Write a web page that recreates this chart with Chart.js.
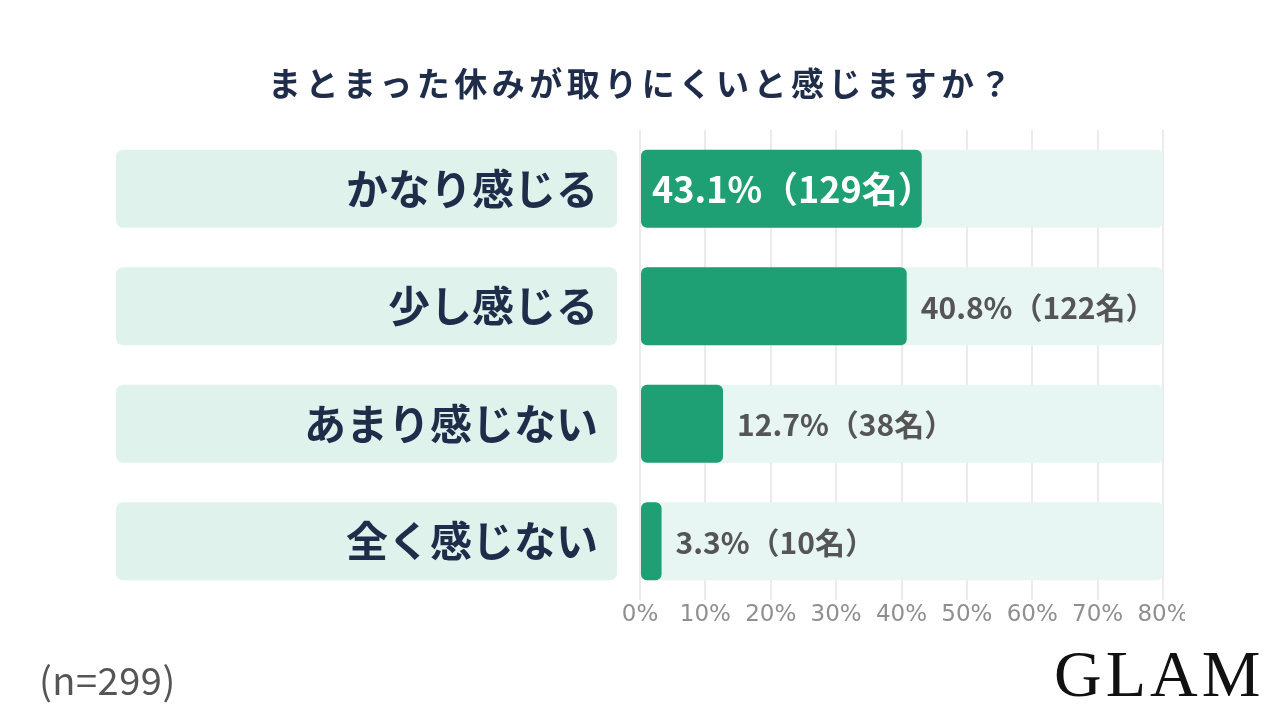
<!DOCTYPE html>
<html><head><meta charset="utf-8">
<script src="https://cdn.jsdelivr.net/npm/chart.js@4/dist/chart.umd.min.js"></script>
<style>
html,body{margin:0;padding:0;background:#fff;}
#wrap{position:absolute;left:0;top:0;width:1185px;height:720px;overflow:hidden;}
#cv{display:block;}
#title{position:absolute;left:0;top:60px;width:1284px;text-align:center;font:700 33px "Noto Sans CJK JP";letter-spacing:4.5px;color:#1f2d4a;line-height:44px;white-space:nowrap;}
#n{position:absolute;left:39px;top:653px;font:400 38px "Noto Sans CJK JP";letter-spacing:0.5px;color:#555;line-height:52px;}
#logo{position:absolute;left:1054px;top:636px;font:400 66px "Liberation Serif";letter-spacing:4px;color:#111;}
</style></head>
<body>
<div id="wrap"><canvas id="cv" width="1280" height="720" style="width:1280px;height:720px"></canvas></div>
<div id="title"></div>
<div id="n">(n=299)</div>
<div id="logo">GLAM</div>
<script>
const titleText = 'まとまった休みが取りにくいと感じますか？';
const categories = ['かなり感じる', '少し感じる', 'あまり感じない', '全く感じない'];
const percents = [43.1, 40.8, 12.7, 3.3];
const counts = [129, 122, 38, 10];
const trackMax = [80, 80, 80, 80];
const tickValues = [0, 10, 20, 30, 40, 50, 60, 70, 80];

document.getElementById('title').textContent = titleText;

const NAVY = '#1f2d4a';
const GREEN = '#1f9f74';
const TRACK = '#e7f6f2';
const BOX = '#dff3ec';

const boxPlugin = {
  id: 'boxes',
  beforeDraw(chart) {
    const ctx = chart.ctx, y = chart.scales.y;
    const h = 78;
    ctx.save();
    ctx.fillStyle = BOX;
    categories.forEach((c, i) => {
      const cy = y.getPixelForValue(i);
      ctx.beginPath();
      ctx.roundRect(116, cy - h / 2, 501, h, 7);
      ctx.fill();
    });
    ctx.restore();
  }
};

const labelPlugin = {
  id: 'vlabels',
  afterDatasetsDraw(chart) {
    const ctx = chart.ctx;
    const meta = chart.getDatasetMeta(0);
    const maxV = Math.max(...percents);
    ctx.save();
    ctx.textBaseline = 'middle';
    ctx.textAlign = 'left';
    meta.data.forEach((bar, i) => {
      const txt = percents[i].toFixed(1) + '%（' + counts[i] + '名）';
      if (percents[i] === maxV) {
        ctx.fillStyle = '#ffffff';
        ctx.font = '700 36px "Noto Sans CJK JP"';
        ctx.fillText(txt, bar.base + 11, bar.y + 1);
      } else {
        ctx.fillStyle = '#555555';
        ctx.font = '700 30px "Noto Sans CJK JP"';
        ctx.fillText(txt, bar.x + 14, bar.y + 1);
      }
    });
    ctx.restore();
  }
};

new Chart(document.getElementById('cv'), {
  type: 'bar',
  data: {
    labels: categories,
    datasets: [
      { data: percents, backgroundColor: GREEN, borderRadius: 6, borderSkipped: false,
        grouped: false, barPercentage: 0.662, categoryPercentage: 1 },
      { data: trackMax, backgroundColor: TRACK, borderRadius: 6, borderSkipped: false,
        grouped: false, barPercentage: 0.662, categoryPercentage: 1 }
    ]
  },
  options: {
    indexAxis: 'y',
    responsive: false,
    animation: false,
    layout: { padding: { top: 130, right: 117, bottom: 0, left: 0 } },
    plugins: {
      legend: { display: false },
      tooltip: { enabled: false },
      title: { display: false }
    },
    scales: {
      x: {
        min: 0, max: 80,
        afterBuildTicks(s) { s.ticks = tickValues.map(v => ({ value: v })); },
        ticks: { color: '#8f8f8f', font: { family: '"DejaVu Sans"', size: 23 }, padding: 1,
          callback: v => v + '%' },
        grid: { color: '#ebebeb', lineWidth: 2, drawTicks: true, tickLength: 0 },
        border: { display: false },
        afterFit(s) { s.height = 120; }
      },
      y: {
        ticks: { color: NAVY, font: { family: '"Noto Sans CJK JP"', size: 42, weight: '700' }, padding: 42 },
        grid: { display: false, drawTicks: false },
        border: { display: false },
        afterFit(s) { s.width = 640; }
      }
    }
  },
  plugins: [boxPlugin, labelPlugin]
});
</script>
</body></html>
